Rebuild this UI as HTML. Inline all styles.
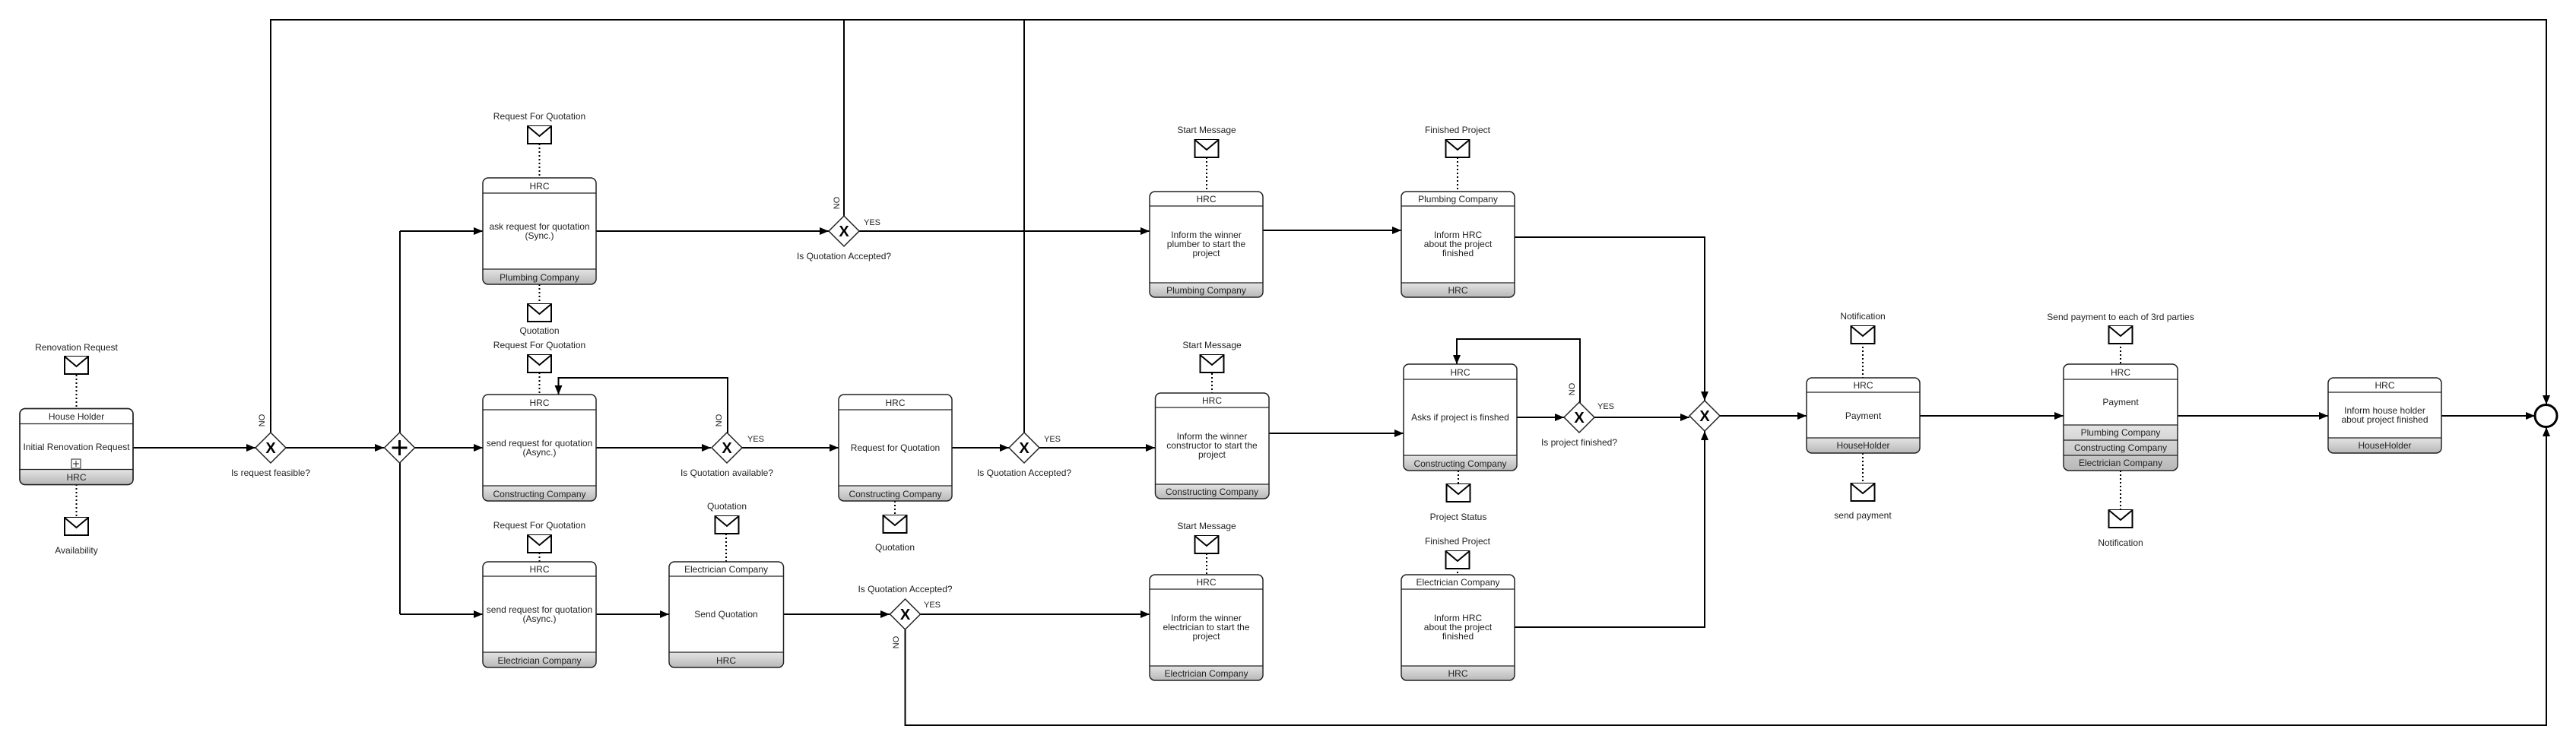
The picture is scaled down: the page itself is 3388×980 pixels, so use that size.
<!DOCTYPE html>
<html><head><meta charset="utf-8"><style>
html,body{margin:0;padding:0;background:#fff;}
svg{display:block;}
text{font-family:"Liberation Sans",sans-serif;font-size:12px;fill:#222;text-anchor:middle;}
.f{stroke:#000;stroke-width:2;fill:none;}
.d{stroke:#000;stroke-width:2;stroke-dasharray:2,3;fill:none;}
.t{fill:#fff;stroke:#222;stroke-width:1.5;}
.env{fill:#fff;stroke:#000;stroke-width:2;}
</style></head><body>
<svg width="3388" height="980" viewBox="0 0 3388 980" xmlns="http://www.w3.org/2000/svg">
<defs>
<marker id="a" viewBox="0 0 12 10" refX="12" refY="5" markerWidth="12" markerHeight="10" markerUnits="userSpaceOnUse" orient="auto"><path d="M0,0L12,5L0,10z" fill="#000"/></marker>
<linearGradient id="g" x1="0" y1="0" x2="0" y2="1"><stop offset="0" stop-color="#e4e4e4"/><stop offset="1" stop-color="#b8b8b8"/></linearGradient>
<g id="env"><rect class="env" x="-15.5" y="0" width="31" height="23"/><path d="M-15.5,0L0,13L15.5,0" class="env" fill="none"/></g>
</defs>

<!-- flows -->
<g class="f">
<path d="M175,589H336" marker-end="url(#a)"/>
<path d="M356,569V26H3349V532" marker-end="url(#a)"/>
<path d="M376,589H505" marker-end="url(#a)"/>
<path d="M526,304V808"/>
<path d="M545,589H635" marker-end="url(#a)"/>
<path d="M526,304H635" marker-end="url(#a)"/>
<path d="M526,808H635" marker-end="url(#a)"/>
<path d="M784,589H935" marker-end="url(#a)"/>
<path d="M957,570V497H734.5V519" marker-end="url(#a)"/>
<path d="M975,589H1103" marker-end="url(#a)"/>
<path d="M784,304H1090" marker-end="url(#a)"/>
<path d="M1110,284V26"/>
<path d="M1130,304H1512" marker-end="url(#a)"/>
<path d="M1252,589H1327" marker-end="url(#a)"/>
<path d="M1347,569V26"/>
<path d="M1367,589H1519" marker-end="url(#a)"/>
<path d="M784,808H880" marker-end="url(#a)"/>
<path d="M1030,808H1170" marker-end="url(#a)"/>
<path d="M1210,808H1512" marker-end="url(#a)"/>
<path d="M1190.5,828V954H3349V562" marker-end="url(#a)"/>
<path d="M1661,303H1843" marker-end="url(#a)"/>
<path d="M1992,312H2242V527" marker-end="url(#a)"/>
<path d="M1669,570H1846" marker-end="url(#a)"/>
<path d="M1995,549H2057" marker-end="url(#a)"/>
<path d="M2078,530V446H1916V479" marker-end="url(#a)"/>
<path d="M2097,549H2222" marker-end="url(#a)"/>
<path d="M1992,825H2242V567" marker-end="url(#a)"/>
<path d="M2262,547H2376" marker-end="url(#a)"/>
<path d="M2525,547H2714" marker-end="url(#a)"/>
<path d="M2864,547H3062" marker-end="url(#a)"/>
<path d="M3211,547H3334" marker-end="url(#a)"/>
</g>

<!-- dotted associations -->
<g class="d">
<path d="M100.5,493V537"/><path d="M100.5,637V681"/>
<path d="M709.5,189V234"/><path d="M709.5,374V400"/><path d="M709.5,490V519"/><path d="M709.5,727V739"/>
<path d="M955,702V739"/><path d="M1177,659V678"/>
<path d="M1587,207V252"/><path d="M1917,207V252"/><path d="M1594,491V517"/><path d="M1918,619V637"/>
<path d="M1587,728V756"/><path d="M1917,747V756"/>
<path d="M2450,451V497"/><path d="M2450,596V636"/><path d="M2789,451V479"/><path d="M2789,619V671"/>
</g>

<!-- envelopes + labels -->
<use href="#env" x="100.5" y="469"/><text x="100.5" y="461">Renovation Request</text>
<use href="#env" x="100.5" y="681"/><text x="100.5" y="728">Availability</text>
<use href="#env" x="709.5" y="166"/><text x="709.5" y="157">Request For Quotation</text>
<use href="#env" x="709.5" y="400"/><text x="709.5" y="439">Quotation</text>
<use href="#env" x="709.5" y="467"/><text x="709.5" y="458">Request For Quotation</text>
<use href="#env" x="709.5" y="704"/><text x="709.5" y="695">Request For Quotation</text>
<use href="#env" x="956" y="679"/><text x="956" y="670">Quotation</text>
<use href="#env" x="1177" y="678"/><text x="1177" y="724">Quotation</text>
<use href="#env" x="1587" y="184"/><text x="1587" y="175">Start Message</text>
<use href="#env" x="1917" y="184"/><text x="1917" y="175">Finished Project</text>
<use href="#env" x="1594" y="467"/><text x="1594" y="458">Start Message</text>
<use href="#env" x="1918" y="637"/><text x="1918" y="684">Project Status</text>
<use href="#env" x="1587" y="705"/><text x="1587" y="696">Start Message</text>
<use href="#env" x="1917" y="725"/><text x="1917" y="716">Finished Project</text>
<use href="#env" x="2450" y="429"/><text x="2450" y="420">Notification</text>
<use href="#env" x="2450" y="636"/><text x="2450" y="682">send payment</text>
<use href="#env" x="2789" y="429"/><text x="2789" y="421">Send payment to each of 3rd parties</text>
<use href="#env" x="2789" y="671"/><text x="2789" y="718">Notification</text>

<!-- tasks -->
<g>
<!-- 1 -->
<rect class="t" x="26" y="537.5" width="149" height="100" rx="7"/>
<path d="M27,617.5H174V630a7,7 0 0 1-7,7H33a7,7 0 0 1-7-7z" fill="url(#g)"/>
<rect x="26" y="537.5" width="149" height="100" rx="7" fill="none" stroke="#222" stroke-width="1.5"/>
<path d="M26,557.5H175M26,617.5H175" stroke="#222" stroke-width="1.2"/>
<text x="100.5" y="552">House Holder</text><text x="100.5" y="592">Initial Renovation Request</text><text x="100.5" y="632">HRC</text>
<rect x="94" y="604" width="12" height="12" fill="#fff" stroke="#222"/><path d="M100,606V614M96,610H104" stroke="#222"/>
</g>

<g id="tasks">
<!-- generic: rect, footer, lines -->
<!-- 2 -->
<path d="M636,354H783V367a7,7 0 0 1-7,7H643a7,7 0 0 1-7-7z" fill="url(#g)"/>
<rect x="635" y="234" width="149" height="140" rx="7" fill="none" stroke="#222" stroke-width="1.5"/>
<path d="M635,254H784M635,354H784" stroke="#222" stroke-width="1.2"/>
<text x="709.5" y="249">HRC</text><text x="709.5" y="302">ask request for quotation</text><text x="709.5" y="314">(Sync.)</text><text x="709.5" y="369">Plumbing Company</text>
<!-- 3 -->
<path d="M636,639H783V652a7,7 0 0 1-7,7H643a7,7 0 0 1-7-7z" fill="url(#g)"/>
<rect x="635" y="519" width="149" height="140" rx="7" fill="none" stroke="#222" stroke-width="1.5"/>
<path d="M635,539H784M635,639H784" stroke="#222" stroke-width="1.2"/>
<text x="709.5" y="534">HRC</text><text x="709.5" y="587">send request for quotation</text><text x="709.5" y="599">(Async.)</text><text x="709.5" y="654">Constructing Company</text>
<!-- 4 -->
<path d="M636,858H783V871a7,7 0 0 1-7,7H643a7,7 0 0 1-7-7z" fill="url(#g)"/>
<rect x="635" y="739" width="149" height="139" rx="7" fill="none" stroke="#222" stroke-width="1.5"/>
<path d="M635,758H784M635,858H784" stroke="#222" stroke-width="1.2"/>
<text x="709.5" y="753">HRC</text><text x="709.5" y="806">send request for quotation</text><text x="709.5" y="818">(Async.)</text><text x="709.5" y="873">Electrician Company</text>
<!-- 5 -->
<path d="M881,858H1029.5V871a7,7 0 0 1-7,7H888a7,7 0 0 1-7-7z" fill="url(#g)"/>
<rect x="880" y="739" width="150.5" height="139" rx="7" fill="none" stroke="#222" stroke-width="1.5"/>
<path d="M880,758H1030.5M880,858H1030.5" stroke="#222" stroke-width="1.2"/>
<text x="955" y="753">Electrician Company</text><text x="955" y="812">Send Quotation</text><text x="955" y="873">HRC</text>
<!-- 6 -->
<path d="M1104,639H1251V652a7,7 0 0 1-7,7H1111a7,7 0 0 1-7-7z" fill="url(#g)"/>
<rect x="1103" y="519" width="149" height="140" rx="7" fill="none" stroke="#222" stroke-width="1.5"/>
<path d="M1103,539H1252M1103,639H1252" stroke="#222" stroke-width="1.2"/>
<text x="1177.5" y="534">HRC</text><text x="1177.5" y="593">Request for Quotation</text><text x="1177.5" y="654">Constructing Company</text>
<!-- 7 -->
<path d="M1513,372H1660V384a7,7 0 0 1-7,7H1520a7,7 0 0 1-7-7z" fill="url(#g)"/>
<rect x="1512" y="252" width="149" height="139" rx="7" fill="none" stroke="#222" stroke-width="1.5"/>
<path d="M1512,271H1661M1512,372H1661" stroke="#222" stroke-width="1.2"/>
<text x="1586.5" y="266">HRC</text><text x="1586.5" y="313">Inform the winner</text><text x="1586.5" y="325">plumber to start the</text><text x="1586.5" y="337">project</text><text x="1586.5" y="386">Plumbing Company</text>
<!-- 8 -->
<path d="M1844,372H1991V384a7,7 0 0 1-7,7H1851a7,7 0 0 1-7-7z" fill="url(#g)"/>
<rect x="1843" y="252" width="149" height="139" rx="7" fill="none" stroke="#222" stroke-width="1.5"/>
<path d="M1843,271H1992M1843,372H1992" stroke="#222" stroke-width="1.2"/>
<text x="1917.5" y="266">Plumbing Company</text><text x="1917.5" y="313">Inform HRC</text><text x="1917.5" y="325">about the project</text><text x="1917.5" y="337">finished</text><text x="1917.5" y="386">HRC</text>
<!-- 9 -->
<path d="M1520.5,637H1668V649a7,7 0 0 1-7,7H1527.5a7,7 0 0 1-7-7z" fill="url(#g)"/>
<rect x="1519.5" y="517" width="149.5" height="139" rx="7" fill="none" stroke="#222" stroke-width="1.5"/>
<path d="M1519.5,536H1669M1519.5,637H1669" stroke="#222" stroke-width="1.2"/>
<text x="1594" y="531">HRC</text><text x="1594" y="578">Inform the winner</text><text x="1594" y="590">constructor to start the</text><text x="1594" y="602">project</text><text x="1594" y="651">Constructing Company</text>
<!-- 10 -->
<path d="M1847,599H1994V612a7,7 0 0 1-7,7H1854a7,7 0 0 1-7-7z" fill="url(#g)"/>
<rect x="1846" y="479" width="149" height="140" rx="7" fill="none" stroke="#222" stroke-width="1.5"/>
<path d="M1846,499H1995M1846,599H1995" stroke="#222" stroke-width="1.2"/>
<text x="1920.5" y="494">HRC</text><text x="1920.5" y="553">Asks if project is finshed</text><text x="1920.5" y="614">Constructing Company</text>
<!-- 11 -->
<path d="M1513,876H1660V888a7,7 0 0 1-7,7H1520a7,7 0 0 1-7-7z" fill="url(#g)"/>
<rect x="1512" y="756" width="149" height="139" rx="7" fill="none" stroke="#222" stroke-width="1.5"/>
<path d="M1512,775H1661M1512,876H1661" stroke="#222" stroke-width="1.2"/>
<text x="1586.5" y="770">HRC</text><text x="1586.5" y="817">Inform the winner</text><text x="1586.5" y="829">electrician to start the</text><text x="1586.5" y="841">project</text><text x="1586.5" y="890">Electrician Company</text>
<!-- 12 -->
<path d="M1844,876H1991V888a7,7 0 0 1-7,7H1851a7,7 0 0 1-7-7z" fill="url(#g)"/>
<rect x="1843" y="756" width="149" height="139" rx="7" fill="none" stroke="#222" stroke-width="1.5"/>
<path d="M1843,775H1992M1843,876H1992" stroke="#222" stroke-width="1.2"/>
<text x="1917.5" y="770">Electrician Company</text><text x="1917.5" y="817">Inform HRC</text><text x="1917.5" y="829">about the project</text><text x="1917.5" y="841">finished</text><text x="1917.5" y="890">HRC</text>
<!-- 13 -->
<path d="M2377,576H2524V589a7,7 0 0 1-7,7H2384a7,7 0 0 1-7-7z" fill="url(#g)"/>
<rect x="2376" y="497" width="149" height="99" rx="7" fill="none" stroke="#222" stroke-width="1.5"/>
<path d="M2376,516H2525M2376,576H2525" stroke="#222" stroke-width="1.2"/>
<text x="2450.5" y="511">HRC</text><text x="2450.5" y="551">Payment</text><text x="2450.5" y="590">HouseHolder</text>
<!-- 14 -->
<path d="M2715,559H2863V612a7,7 0 0 1-7,7H2722a7,7 0 0 1-7-7z" fill="url(#g)"/>
<rect x="2714" y="479" width="150" height="140" rx="7" fill="none" stroke="#222" stroke-width="1.5"/>
<path d="M2714,499H2864M2714,559H2864M2714,579H2864M2714,599H2864" stroke="#222" stroke-width="1.2"/>
<text x="2789" y="494">HRC</text><text x="2789" y="533">Payment</text><text x="2789" y="573">Plumbing Company</text><text x="2789" y="593">Constructing Company</text><text x="2789" y="613">Electrician Company</text>
<!-- 15 -->
<path d="M3063,576H3210V589a7,7 0 0 1-7,7H3070a7,7 0 0 1-7-7z" fill="url(#g)"/>
<rect x="3062" y="497" width="149" height="99" rx="7" fill="none" stroke="#222" stroke-width="1.5"/>
<path d="M3062,516H3211M3062,576H3211" stroke="#222" stroke-width="1.2"/>
<text x="3136.5" y="511">HRC</text><text x="3136.5" y="544">Inform house holder</text><text x="3136.5" y="556">about project finished</text><text x="3136.5" y="590">HouseHolder</text>
</g>

<!-- gateways -->
<g stroke="#222" stroke-width="1.5" fill="#fff">
<path d="M356,569L376,589L356,609L336,589z"/>
<path d="M525.5,569L545.5,589L525.5,609L505.5,589z"/>
<path d="M956,569L976,589L956,609L936,589z"/>
<path d="M1110,284L1130,304L1110,324L1090,304z"/>
<path d="M1347,569L1367,589L1347,609L1327,589z"/>
<path d="M1190.5,788L1210.5,808L1190.5,828L1170.5,808z"/>
<path d="M2077,529L2097,549L2077,569L2057,549z"/>
<path d="M2242,527L2262,547L2242,567L2222,547z"/>
</g>
<g style="font-size:20px;font-weight:bold;">
<text x="356" y="596" style="font-size:20px;font-weight:bold;fill:#000">X</text>
<text x="956" y="596" style="font-size:20px;font-weight:bold;fill:#000">X</text>
<text x="1110" y="311" style="font-size:20px;font-weight:bold;fill:#000">X</text>
<text x="1347" y="596" style="font-size:20px;font-weight:bold;fill:#000">X</text>
<text x="1190.5" y="815" style="font-size:20px;font-weight:bold;fill:#000">X</text>
<text x="2077" y="556" style="font-size:20px;font-weight:bold;fill:#000">X</text>
<text x="2242" y="554" style="font-size:20px;font-weight:bold;fill:#000">X</text>
</g>
<path d="M525.5,579V599M515.5,589H535.5" stroke="#000" stroke-width="3"/>

<!-- end event -->
<circle cx="3348.5" cy="547" r="14.5" fill="#fff" stroke="#000" stroke-width="3"/>

<!-- gateway labels -->
<text x="356" y="626">Is request feasible?</text>
<text x="956" y="626">Is Quotation available?</text>
<text x="1110" y="341">Is Quotation Accepted?</text>
<text x="1347" y="626">Is Quotation Accepted?</text>
<text x="1190.5" y="779">Is Quotation Accepted?</text>
<text x="2077" y="586">Is project finished?</text>
<text x="1147" y="296" style="font-size:11px">YES</text>
<text x="994" y="581" style="font-size:11px">YES</text>
<text x="1384" y="581" style="font-size:11px">YES</text>
<text x="1226" y="799" style="font-size:11px">YES</text>
<text x="2112" y="538" style="font-size:11px">YES</text>
<text transform="translate(348,553) rotate(-90)" style="font-size:11px">NO</text>
<text transform="translate(949,553) rotate(-90)" style="font-size:11px">NO</text>
<text transform="translate(1104,267) rotate(-90)" style="font-size:11px">NO</text>
<text transform="translate(1182,845) rotate(-90)" style="font-size:11px">NO</text>
<text transform="translate(2071,512) rotate(-90)" style="font-size:11px">NO</text>
</svg>
</body></html>
